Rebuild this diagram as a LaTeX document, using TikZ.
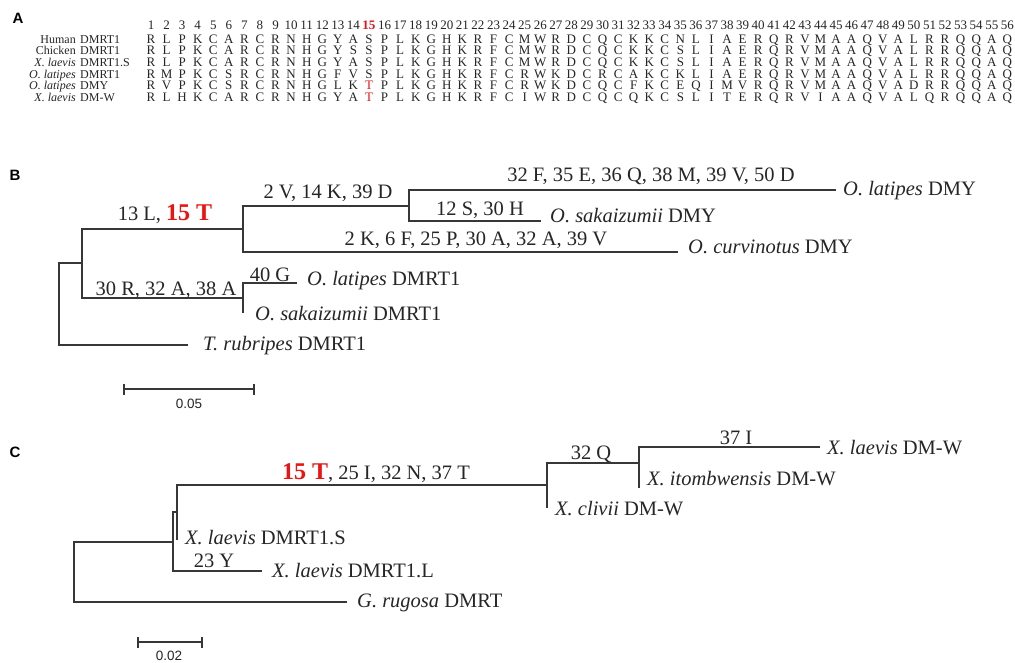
\documentclass[tikz,border=0pt]{standalone}
\usepackage{fontspec}
\setmainfont{Liberation Serif}
\newfontfamily\panelfont{Liberation Sans}
\usepackage{xcolor}
\usetikzlibrary{positioning}
\definecolor{mutred}{RGB}{235,20,20}
\definecolor{treegray}{RGB}{55,55,55}
\newcommand{\hl}[1]{\textcolor{mutred}{#1}}
\newcommand{\hlbig}[1]{\textcolor{mutred}{\bfseries\fontsize{24}{28}\selectfont #1}}
\newcommand{\taxon}[2]{\textit{#1} #2}

\begin{document}
\begin{tikzpicture}[x=1pt, y=-1pt]
    % Styles
    \tikzstyle{branch} = [treegray, line width=1.3pt]
    \tikzstyle{mut} = [anchor=base, inner sep=0pt, text=black!85, font=\fontsize{20.5}{24}\selectfont]
    \tikzstyle{leaf} = [anchor=base west, inner sep=0pt, text=black!85, font=\fontsize{20.5}{24}\selectfont]
    \tikzstyle{aa} = [anchor=base, inner sep=0pt, text=black!85, font=\fontsize{13}{14}\selectfont]
    \tikzstyle{rowsp} = [anchor=base east, inner sep=0pt, text=black!85, font=\fontsize{12}{13}\selectfont\itshape]
    \tikzstyle{rowgn} = [anchor=base west, inner sep=0pt, text=black!85, font=\fontsize{12}{13}\selectfont]
    \tikzstyle{panel} = [inner sep=0pt, font=\panelfont\bfseries\fontsize{15}{18}\selectfont]
    \tikzstyle{scalebar} = [treegray, line width=1.3pt]
    \tikzstyle{scalelbl} = [inner sep=0pt, text=black!85, font=\panelfont\fontsize{13.5}{16}\selectfont]

    \fill[white] (0,0) rectangle (1015,663);
    \useasboundingbox (0,0) rectangle (1015,663);

    % Panel labels
    \node[panel] (pA) at (18,18) {A};
    \node[panel] (pB) at (15,175) {B};
    \node[panel] (pC) at (15,452) {C};

    % A: alignment header
    \foreach \j in {1,...,14}
        \node[aa] (c\j) at ({135.43+15.57*\j},29.1) {\j};
    \foreach \j in {16,...,56}
        \node[aa] (c\j) at ({135.43+15.57*\j},29.1) {\j};
    \node[aa, font=\fontsize{13}{14}\selectfont\bfseries, text=mutred] (c15) at ({135.43+15.57*15},29.1) {15};

    % A: row labels
    \node[rowsp] (sp1) at (76,43.1) {\upshape Human};
    \node[rowgn] (gn1) at (80,43.1) {DMRT1};
    \node[rowsp] (sp2) at (76,54.8) {\upshape Chicken};
    \node[rowgn] (gn2) at (80,54.8) {DMRT1};
    \node[rowsp] (sp3) at (76,66.5) {X. laevis};
    \node[rowgn] (gn3) at (80,66.5) {DMRT1.S};
    \node[rowsp] (sp4) at (76,78.2) {O. latipes};
    \node[rowgn] (gn4) at (80,78.2) {DMRT1};
    \node[rowsp] (sp5) at (76,89.9) {O. latipes};
    \node[rowgn] (gn5) at (80,89.9) {DMY};
    \node[rowsp] (sp6) at (76,101.6) {X. laevis};
    \node[rowgn] (gn6) at (80,101.6) {DM-W};

    % A: sequences
    \foreach \r [count=\j] in {R,L,P,K,C,A,R,C,R,N,H,G,Y,A,S,P,L,K,G,H,K,R,F,C,M,W,R,D,C,Q,C,K,K,C,N,L,I,A,E,R,Q,R,V,M,A,A,Q,V,A,L,R,R,Q,Q,A,Q}
        \node[aa] (ra\j) at ({135.43+15.57*\j},43.1) {\r};
    \foreach \r [count=\j] in {R,L,P,K,C,A,R,C,R,N,H,G,Y,S,S,P,L,K,G,H,K,R,F,C,M,W,R,D,C,Q,C,K,K,C,S,L,I,A,E,R,Q,R,V,M,A,A,Q,V,A,L,R,R,Q,Q,A,Q}
        \node[aa] (rb\j) at ({135.43+15.57*\j},54.8) {\r};
    \foreach \r [count=\j] in {R,L,P,K,C,A,R,C,R,N,H,G,Y,A,S,P,L,K,G,H,K,R,F,C,M,W,R,D,C,Q,C,K,K,C,S,L,I,A,E,R,Q,R,V,M,A,A,Q,V,A,L,R,R,Q,Q,A,Q}
        \node[aa] (rc\j) at ({135.43+15.57*\j},66.5) {\r};
    \foreach \r [count=\j] in {R,M,P,K,C,S,R,C,R,N,H,G,F,V,S,P,L,K,G,H,K,R,F,C,R,W,K,D,C,R,C,A,K,C,K,L,I,A,E,R,Q,R,V,M,A,A,Q,V,A,L,R,R,Q,Q,A,Q}
        \node[aa] (rd\j) at ({135.43+15.57*\j},78.2) {\r};
    \foreach \r [count=\j] in {R,V,P,K,C,S,R,C,R,N,H,G,L,K,\hl{T},P,L,K,G,H,K,R,F,C,R,W,K,D,C,Q,C,F,K,C,E,Q,I,M,V,R,Q,R,V,M,A,A,Q,V,A,D,R,R,Q,Q,A,Q}
        \node[aa] (re\j) at ({135.43+15.57*\j},89.9) {\r};
    \foreach \r [count=\j] in {R,L,H,K,C,A,R,C,R,N,H,G,Y,A,\hl{T},P,L,K,G,H,K,R,F,C,I,W,R,D,C,Q,C,Q,K,C,S,L,I,T,E,R,Q,R,V,I,A,A,Q,V,A,L,Q,R,Q,Q,A,Q}
        \node[aa] (rf\j) at ({135.43+15.57*\j},101.6) {\r};

    % B: tree
    \coordinate (rB) at (59,263);
    \coordinate (nB1) at (82,263);
    \coordinate (nB2) at (243,229);
    \coordinate (nB3) at (409,206);
    \coordinate (nB4) at (243,298);
    \coordinate (tLatDMY) at (836,190);
    \coordinate (tSakDMY) at (541,221);
    \coordinate (tCurDMY) at (678,252);
    \coordinate (tLatDM1) at (297,283);
    \coordinate (tSakDM1) at (243,313);
    \coordinate (tRub) at (188,345);

    \draw[branch] (nB1) -| (rB) |- (tRub);
    \draw[branch] (nB2) -| (nB1) |- (nB4);
    \draw[branch] (nB3) -| (nB2) |- (tCurDMY);
    \draw[branch] (tLatDMY) -| (nB3) |- (tSakDMY);
    \draw[branch] (tLatDM1) -| (nB4) |- (tSakDM1);

    \node[mut] (mB1) at (165,221) {13 L, \hlbig{15 T}};
    \node[mut] (mB2) at (328,199) {2 V, 14 K, 39 D};
    \node[mut] (mB3) at (651,182) {32 F, 35 E, 36 Q, 38 M, 39 V, 50 D};
    \node[mut] (mB4) at (480,216) {12 S, 30 H};
    \node[mut] (mB5) at (476,246) {2 K, 6 F, 25 P, 30 A, 32 A, 39 V};
    \node[mut] (mB6) at (270,281) {40 G};
    \node[mut] (mB7) at (166,295) {30 R, 32 A, 38 A};

    \node[leaf] (lLatDMY) at (843,196) {\taxon{O. latipes}{DMY}};
    \node[leaf] (lSakDMY) at (550,223) {\taxon{O. sakaizumii}{DMY}};
    \node[leaf] (lCurDMY) at (688,254) {\taxon{O. curvinotus}{DMY}};
    \node[leaf] (lLatDM1) at (307,285) {\taxon{O. latipes}{DMRT1}};
    \node[leaf] (lSakDM1) at (255,320) {\taxon{O. sakaizumii}{DMRT1}};
    \node[leaf] (lRub) at (203,350) {\taxon{T. rubripes}{DMRT1}};

    % B: scale bar
    \coordinate (sB1) at (124,389);
    \coordinate (sB2) at (254,389);
    \draw[scalebar] (sB1) -- (sB2);
    \draw[scalebar] ([yshift=5.5pt]sB1) -- ([yshift=-5.5pt]sB1);
    \draw[scalebar] ([yshift=5.5pt]sB2) -- ([yshift=-5.5pt]sB2);
    \node[scalelbl] (lsB) at (189,404) {0.05};

    % C: tree
    \coordinate (rC) at (74,542);
    \coordinate (nC1) at (173,542);
    \coordinate (nC2) at (177,512);
    \coordinate (nC3) at (547,485);
    \coordinate (nC4) at (639,463);
    \coordinate (tLaeW) at (820,447);
    \coordinate (tItoW) at (639,488);
    \coordinate (tCliW) at (547,508);
    \coordinate (tLaeS) at (177,540);
    \coordinate (tLaeL) at (262,571);
    \coordinate (tRug) at (347,602);

    \draw[branch] (nC1) -| (rC) |- (tRug);
    \draw[branch] (nC2) -| (nC1) |- (tLaeL);
    \draw[branch] (nC3) -| (nC2) |- (tLaeS);
    \draw[branch] (nC4) -| (nC3) |- (tCliW);
    \draw[branch] (tLaeW) -| (nC4) |- (tItoW);

    \node[mut] (mC1) at (376,479) {\hlbig{15 T}, 25 I, 32 N, 37 T};
    \node[mut] (mC2) at (591,459) {32 Q};
    \node[mut] (mC3) at (736,444) {37 I};
    \node[mut] (mC4) at (214,567) {23 Y};

    \node[leaf] (lLaeW) at (827,454) {\taxon{X. laevis}{DM-W}};
    \node[leaf] (lItoW) at (647,485) {\taxon{X. itombwensis}{DM-W}};
    \node[leaf] (lCliW) at (555,515) {\taxon{X. clivii}{DM-W}};
    \node[leaf] (lLaeS) at (185,544) {\taxon{X. laevis}{DMRT1.S}};
    \node[leaf] (lLaeL) at (272,577) {\taxon{X. laevis}{DMRT1.L}};
    \node[leaf] (lRug) at (357,607) {\taxon{G. rugosa}{DMRT}};

    % C: scale bar
    \coordinate (sC1) at (138,642);
    \coordinate (sC2) at (202,642);
    \draw[scalebar] (sC1) -- (sC2);
    \draw[scalebar] ([yshift=5.5pt]sC1) -- ([yshift=-5.5pt]sC1);
    \draw[scalebar] ([yshift=5.5pt]sC2) -- ([yshift=-5.5pt]sC2);
    \node[scalelbl] (lsC) at (169,656) {0.02};
\end{tikzpicture}
\end{document}
